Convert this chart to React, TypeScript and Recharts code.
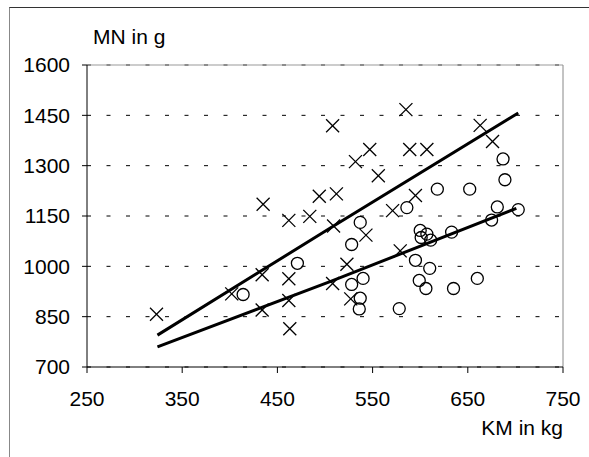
import { ScatterChart, Scatter, XAxis, YAxis, CartesianGrid, ReferenceLine } from 'recharts';

type Pt = { x: number; y: number };

// KM in kg / MN in g
const crossPoints: Pt[] = [
  { x: 323, y: 857 }, { x: 402, y: 918 }, { x: 435, y: 1185 }, { x: 434, y: 975 },
  { x: 434, y: 870 }, { x: 462, y: 1137 }, { x: 462, y: 963 }, { x: 462, y: 898 },
  { x: 463, y: 814 }, { x: 484, y: 1149 }, { x: 494, y: 1209 }, { x: 508, y: 1419 },
  { x: 512, y: 1216 }, { x: 509, y: 1120 }, { x: 508, y: 949 }, { x: 532, y: 1312 },
  { x: 547, y: 1348 }, { x: 556, y: 1270 }, { x: 523, y: 1006 }, { x: 527, y: 903 },
  { x: 543, y: 1093 }, { x: 571, y: 1166 }, { x: 585, y: 1467 }, { x: 589, y: 1348 },
  { x: 607, y: 1348 }, { x: 595, y: 1211 }, { x: 579, y: 1046 }, { x: 663, y: 1420 },
  { x: 676, y: 1372 },
];

const circlePoints: Pt[] = [
  { x: 414, y: 916 }, { x: 471, y: 1009 }, { x: 528, y: 1065 }, { x: 537, y: 1131 },
  { x: 528, y: 946 }, { x: 537, y: 905 }, { x: 536, y: 873 }, { x: 540, y: 964 },
  { x: 578, y: 874 }, { x: 586, y: 1175 }, { x: 595, y: 1018 }, { x: 599, y: 958 },
  { x: 606, y: 934 }, { x: 600, y: 1107 }, { x: 607, y: 1096 }, { x: 601, y: 1086 },
  { x: 611, y: 1078 }, { x: 610, y: 994 }, { x: 618, y: 1230 }, { x: 633, y: 1102 },
  { x: 635, y: 934 }, { x: 652, y: 1230 }, { x: 660, y: 964 }, { x: 675, y: 1138 },
  { x: 681, y: 1177 }, { x: 687, y: 1320 }, { x: 689, y: 1258 }, { x: 703, y: 1169 },
];

const upperFit: Pt[] = [
  { x: 324, y: 795 }, { x: 506, y: 1115 }, { x: 703, y: 1457 },
];

const lowerFit: Pt[] = [
  { x: 324, y: 760 }, { x: 506, y: 955 }, { x: 701, y: 1173 },
];

const xTicks = [250, 350, 450, 550, 650, 750];
const yTicks = [700, 850, 1000, 1150, 1300, 1450, 1600];

const font = '"Liberation Sans", Arial, sans-serif';

function Cross(props: any) {
  const { cx, cy } = props;
  const s = 6.5;
  return (
    <g stroke="#000" strokeWidth={1.3}>
      <line x1={cx - s} y1={cy - s} x2={cx + s} y2={cy + s} />
      <line x1={cx - s} y1={cy + s} x2={cx + s} y2={cy - s} />
    </g>
  );
}

function Ring(props: any) {
  const { cx, cy } = props;
  return <circle cx={cx} cy={cy} r={6} fill="none" stroke="#000" strokeWidth={1.3} />;
}

const NoDot = () => <g />;

export default function App() {
  return (
    <div style={{ position: 'absolute', left: 0, top: 0, width: 589, height: 457, background: '#fff' }}>
      <div
        style={{
          position: 'absolute',
          left: 9,
          top: 7,
          right: 0,
          bottom: 0,
          borderTop: '1px solid #333',
          borderLeft: '1px solid #888',
        }}
      />
      <ScatterChart
        width={589}
        height={457}
        margin={{ top: 65, right: 26, bottom: 50, left: 0 }}
        style={{ position: 'absolute', left: 0, top: 0 }}
      >
        <CartesianGrid vertical={false} stroke="#000" strokeDasharray="4 15.5" />
        <ReferenceLine y={1600} stroke="#999" />
        <ReferenceLine x={750} stroke="#888" />
        <XAxis
          type="number"
          dataKey="x"
          domain={[250, 750]}
          ticks={xTicks}
          tickSize={6}
          tickMargin={18}
          height={40}
          axisLine={{ stroke: '#000' }}
          tickLine={{ stroke: '#000' }}
          tick={{ fill: '#000', fontSize: 21, fontFamily: font }}
          label={{
            content: (p: any) => {
              const vb = p.viewBox || { x: 87, y: 367, width: 476 };
              return (
                <text x={vb.x + vb.width} y={vb.y + 68} textAnchor="end" fontSize={21} fontFamily={font} fill="#000">
                  KM in kg
                </text>
              );
            },
          }}
        />
        <YAxis
          type="number"
          dataKey="y"
          domain={[700, 1600]}
          ticks={yTicks}
          width={87}
          tickSize={5}
          tickMargin={12}
          axisLine={{ stroke: '#000' }}
          tickLine={{ stroke: '#000' }}
          tick={{ fill: '#000', fontSize: 21, fontFamily: font }}
          label={{
            content: (p: any) => {
              const vb = p.viewBox || { x: 0, y: 65 };
              return (
                <text x={vb.x + 93} y={vb.y - 21} fontSize={21} fontFamily={font} fill="#000">
                  MN in g
                </text>
              );
            },
          }}
        />
        <Scatter data={crossPoints} shape={Cross} isAnimationActive={false} />
        <Scatter data={circlePoints} shape={Ring} isAnimationActive={false} />
        <Scatter
          data={upperFit}
          line={{ stroke: '#000', strokeWidth: 3 }}
          shape={NoDot}
          isAnimationActive={false}
        />
        <Scatter
          data={lowerFit}
          line={{ stroke: '#000', strokeWidth: 3 }}
          shape={NoDot}
          isAnimationActive={false}
        />
      </ScatterChart>
    </div>
  );
}
